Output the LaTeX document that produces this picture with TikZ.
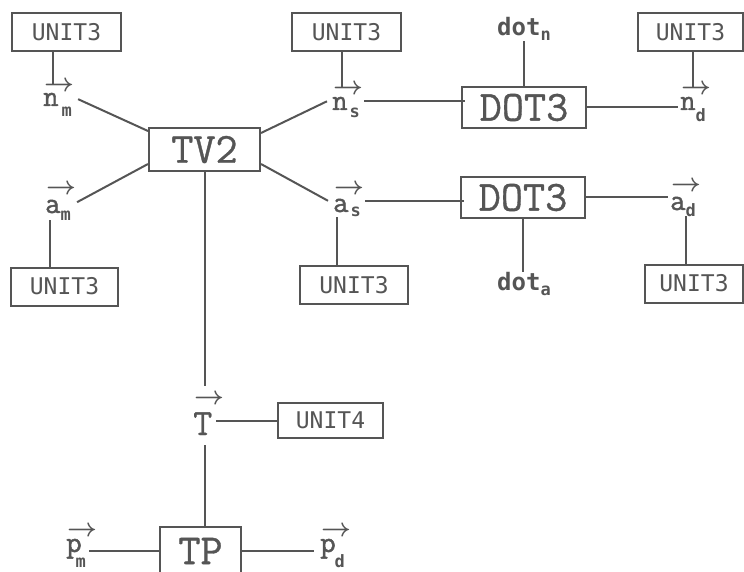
\documentclass[tikz,border=0pt]{standalone}
\usepackage{graphicx}
\usepackage{fontspec}
\newfontfamily\dvm{DejaVu Sans Mono}
\newfontfamily\ttbig{Latin Modern Mono}[FakeBold=0.8]
\newfontfamily\ttlet{Latin Modern Mono}[FakeBold=1.6]
\usetikzlibrary{calc}
\definecolor{ink}{RGB}{85,85,85}
\newcommand\unitfont{\dvm\fontsize{23}{23}\selectfont}
\newcommand\bigfont{\ttbig\fontsize{43}{43}\selectfont}
\newcommand\letfont{\ttlet\fontsize{30}{30}\selectfont}
\newcommand\capfont{\ttbig\fontsize{37}{37}\selectfont}
\newcommand\subfont{\dvm\bfseries\fontsize{17}{17}\selectfont}
\newcommand\arrsym{\scalebox{2.6}{\normalsize\boldmath$\rightarrow$}}
% #1 raise of arrow, #2 lowering of subscript, #3 kern before subscript, #4 letter, #5 subscript
\newcommand\vlab[5]{\rlap{\kern1pt\raisebox{#1}{\arrsym}}#4\kern#3\raisebox{-#2}{\subfont #5}}
\newcommand\dotlab[1]{{\dvm\bfseries\fontsize{24}{24}\selectfont dot}\raisebox{-5pt}{\dvm\bfseries\fontsize{17}{17}\selectfont #1}}
\begin{document}
\begin{tikzpicture}[x=1pt,y=-1pt,
  every node/.style={text=ink},
  conn/.style={draw=ink,line width=2pt},
  unitbox/.style={draw=ink,line width=2pt,inner sep=0pt,minimum height=38pt,font=\unitfont},
  bigbox/.style={draw=ink,line width=2pt,inner sep=0pt,font=\bigfont},
  vec/.style={inner sep=0pt,anchor=base west,font=\letfont}]
\useasboundingbox (0,0) rectangle (744,572);
% boxes
\node[unitbox,minimum width=109pt] (u1) at (66.5,32) {UNIT3};
\node[unitbox,minimum width=109pt] (u5) at (346.5,32) {UNIT3};
\node[unitbox,minimum width=105pt] (u6) at (690.5,32) {UNIT3};
\node[unitbox,minimum width=107pt] (u3) at (64.5,286.5) {UNIT3};
\node[unitbox,minimum width=108pt] (u7) at (354,285) {UNIT3};
\node[unitbox,minimum width=98pt] (u8) at (694,283.5) {UNIT3};
\node[unitbox,minimum width=105pt,minimum height=35pt] (u4) at (330.5,420.5) {UNIT4};
\node[bigbox,minimum width=111pt,minimum height=43pt] (tv) at (204.5,149.5) {TV2};
\node[bigbox,minimum width=124pt,minimum height=41pt] (d1) at (524,107.5) {DOT3};
\node[bigbox,minimum width=124pt,minimum height=41pt] (d2) at (523,197.5) {DOT3};
\node[bigbox,minimum width=81pt,minimum height=48pt] (tp) at (200.5,551) {TP};
% vector labels
\node[vec] (nm) at (43,106) {\vlab{14.5pt}{11pt}{3pt}{n}{m}};
\node[vec] (ns) at (332,110) {\vlab{15.5pt}{8pt}{2pt}{n}{s}};
\node[vec] (nd) at (680,110) {\vlab{15.5pt}{12pt}{0pt}{n}{d}};
\node[vec] (am) at (45,213) {\vlab{18.5pt}{7pt}{0pt}{a}{m}};
\node[vec] (as) at (333,212) {\vlab{17.5pt}{5pt}{2pt}{a}{s}};
\node[vec] (ad) at (670,210) {\vlab{18.5pt}{6pt}{0pt}{a}{d}};
\node[vec] (T) at (193,435) {\vlab{30.5pt}{0pt}{0pt}{\capfont T}{}};
\node[vec] (pm) at (66,552) {\vlab{15.5pt}{15pt}{-6pt}{p}{m}};
\node[vec] (pd) at (320,552) {\vlab{15.5pt}{15pt}{-1pt}{p}{d}};
\node[inner sep=0pt,anchor=base west] (dn) at (497,36) {\dotlab{n}};
\node[inner sep=0pt,anchor=base west] (da) at (497,290) {\dotlab{a}};
% connectors
\draw[conn] ([xshift=10pt,yshift=-3pt]nm.north west) -- ([xshift=10pt]nm.north west |- u1.south);
\draw[conn] ([xshift=6pt]nm.east) -- ([yshift=-4pt]tv.north west);
\draw[conn] ([xshift=6pt]am.east) -- ([yshift=8pt]tv.south west);
\draw[conn] ([xshift=5pt]am.south west) -- ([xshift=5pt]am.south west |- u3.north);
\draw[conn] ([yshift=-6pt]tv.north east) -- ([xshift=-5pt]ns.west);
\draw[conn] ([yshift=8pt]tv.south east) -- ([xshift=-5pt]as.west);
\draw[conn] ([xshift=10pt,yshift=-3pt]ns.north west) -- ([xshift=10pt]ns.north west |- u5.south);
\draw[conn] ([xshift=4pt]ns.east) -- ([xshift=4pt]ns.east -| d1.west);
\draw[conn] (d1.north) -- (d1.north |- dn.south);
\draw[conn] (d1.east) -- ([xshift=-2pt]nd.west |- d1.east);
\draw[conn] ([xshift=13pt,yshift=-3pt]nd.north west) -- ([xshift=13pt]nd.north west |- u6.south);
\draw[conn] ([xshift=4pt]as.east) -- ([xshift=4pt]as.east -| d2.west);
\draw[conn] ([xshift=4pt]as.south west) -- ([xshift=4pt]as.south west |- u7.north);
\draw[conn] (d2.south) -- (d2.south |- da.north);
\draw[conn] (d2.east) -- ([xshift=-2pt]ad.west |- d2.east);
\draw[conn] ([xshift=16pt]ad.south west) -- ([xshift=16pt]ad.south west |- u8.north);
\draw[conn] (tv.south) -- ([yshift=8pt]T.north -| tv.south);
\draw[conn] ([yshift=-10pt]T.south -| tv.south) -- (tp.north -| tv.south);
\draw[conn] ([xshift=4pt]T.east |- u4.west) -- (u4.west);
\draw[conn] ([xshift=3pt]pm.east |- tp.west) -- (tp.west);
\draw[conn] (tp.east) -- ([xshift=-6pt]pd.west |- tp.east);
\end{tikzpicture}
\end{document}
